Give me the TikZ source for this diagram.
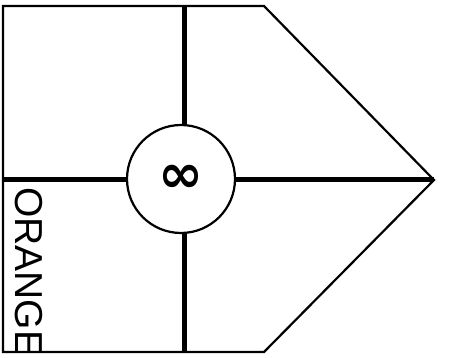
\documentclass[tikz,border=0pt]{standalone}
\usepackage{fontspec}
\setmainfont{Liberation Sans}
\newfontfamily\symfont{DejaVu Sans Bold}
\begin{document}
\begin{tikzpicture}[x=1pt, y=-1pt,
  edge/.style={draw=black, line width=2.2pt, line join=miter},
  divider/.style={draw=black, line width=5pt},
  hub/.style={circle, draw=black, fill=white, line width=2.2pt,
              minimum size=108pt, inner sep=0pt},
]
  \useasboundingbox (0,0) rectangle (453,358);
  \coordinate (nw) at (3,6);
  \coordinate (ne) at (264,6);
  \coordinate (tip) at (434,180);
  \coordinate (se) at (264,352);
  \coordinate (sw) at (3,352);
  \coordinate (top) at (184,6);
  \coordinate (bot) at (184,352);
  \coordinate (left) at (3,180);
  % label runs past the bottom edge, so clip it
  \begin{scope}
    \clip (nw) -- (ne) -- (tip) -- (se) -- (sw) -- cycle;
    \node[rotate=-90, anchor=base west, inner sep=0pt,
          font=\fontsize{39}{39}\selectfont] (label) at (16,187) {ORANGE};
  \end{scope}
  \draw[divider] (top) -- (bot);
  \draw[divider] (left) -- (tip);
  \draw[edge] (nw) -- (ne) -- (tip) -- (se) -- (sw) -- cycle;
  \node[hub, font=\symfont\fontsize{54}{54}\selectfont] (hub) at (181,179) {∞};
\end{tikzpicture}
\end{document}
